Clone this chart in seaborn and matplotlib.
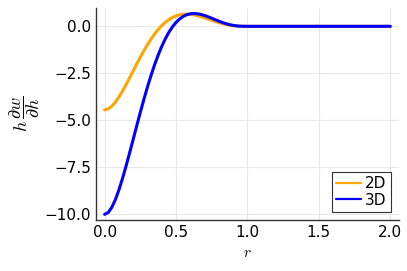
import pandas as pd
import seaborn as sns
import matplotlib.pyplot as plt

# values
r = [0.0, 0.025, 0.05, 0.075, 0.1, 0.125, 0.15, 0.175, 0.2, 0.225, 0.25, 0.275,
     0.3, 0.325, 0.35, 0.375, 0.4, 0.425, 0.45, 0.475, 0.5, 0.525, 0.55, 0.575,
     0.6, 0.625, 0.65, 0.675, 0.7, 0.725, 0.75, 0.775, 0.8, 0.825, 0.85, 0.875,
     0.9, 0.925, 0.95, 0.975, 1.0, 2.0]
dw_2d = [-4.456, -4.404, -4.260, -4.043, -3.769, -3.452, -3.106, -2.743, -2.373, -2.004,
         -1.645, -1.301, -0.978, -0.680, -0.410, -0.170, 0.039, 0.215, 0.360, 0.473,
         0.557, 0.613, 0.644, 0.651, 0.639, 0.610, 0.567, 0.513, 0.452, 0.388,
         0.322, 0.258, 0.198, 0.145, 0.099, 0.062, 0.034, 0.015, 0.005, 0.001, 0.0, 0.0]
dw_3d = [-10.027, -9.929, -9.657, -9.245, -8.723, -8.117, -7.451, -6.747, -6.024, -5.297,
         -4.583, -3.891, -3.233, -2.616, -2.047, -1.530, -1.068, -0.664, -0.317, -0.027,
         0.209, 0.392, 0.527, 0.617, 0.667, 0.683, 0.669, 0.632, 0.576, 0.507,
         0.431, 0.352, 0.275, 0.203, 0.141, 0.089, 0.050, 0.023, 0.007, 0.001, 0.0, 0.0]
series = ["2D", "3D"]
colors = {"2D": "#FFA500", "3D": "#0000FF"}

df = pd.concat([
    pd.DataFrame({"r": r, "val": dw_2d, "dim": "2D"}),
    pd.DataFrame({"r": r, "val": dw_3d, "dim": "3D"}),
])

sns.set_style("white")
plt.rcParams['font.family'] = ['DejaVu Sans']
plt.rcParams['mathtext.fontset'] = 'cm'

fig = plt.figure(figsize=(4.07, 2.71), dpi=100)
ax = fig.add_axes([0.236, 0.188, 0.744, 0.782])

sns.lineplot(data=df, x="r", y="val", hue="dim", hue_order=series,
             palette=colors, linewidth=2.2, ax=ax)

ax.set_xlim(-0.06, 2.06)
ax.set_ylim(-10.33, 0.97)
ax.set_xticks([0.0, 0.5, 1.0, 1.5, 2.0])
ax.set_yticks([-10.0, -7.5, -5.0, -2.5, 0.0])
ax.set_xticklabels(["0.0", "0.5", "1.0", "1.5", "2.0"])
ax.set_yticklabels(["\u221210.0", "\u22127.5", "\u22125.0", "\u22122.5", "0.0"])
ax.tick_params(direction="in", length=3, labelsize=11, color="#333333",
               labelcolor="black")
ax.grid(True, color="#e8e8e8", linewidth=0.8)

for side in ["top", "right"]:
    ax.spines[side].set_visible(False)
for side in ["left", "bottom"]:
    ax.spines[side].set_color("#333333")
    ax.spines[side].set_linewidth(1.0)

ax.set_xlabel(r"$r$", fontsize=11, color="black")
ax.set_ylabel(r"$h\,\dfrac{\partial w}{\partial h}$", fontsize=13, color="black",
              labelpad=2)

leg = ax.legend(loc="lower right", fontsize=11, fancybox=False, framealpha=1,
                edgecolor="#333333", handlelength=1.6, borderaxespad=0.5,
                handletextpad=0.3, borderpad=0.3, labelspacing=0.1)
leg.get_frame().set_linewidth(0.8)
for line in leg.get_lines():
    line.set_linewidth(1.6)
for t in leg.get_texts():
    t.set_color("black")

fig.savefig("out.png", dpi=100)
